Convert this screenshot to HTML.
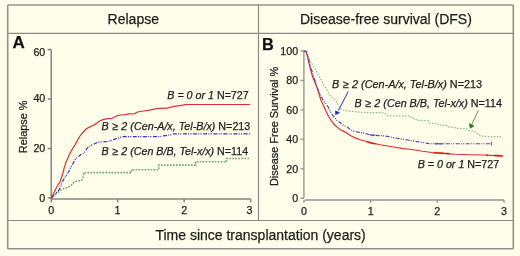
<!DOCTYPE html>
<html><head><meta charset="utf-8"><style>
html,body{margin:0;padding:0;background:#FEFEEB;width:520px;height:256px;overflow:hidden}
svg{display:block;font-family:"Liberation Sans",sans-serif;will-change:transform;filter:blur(0.35px)}
text{stroke:#1E1E1E;stroke-width:0.25px}
</style></head><body>
<svg width="520" height="256" viewBox="0 0 520 256">
<rect x="0" y="0" width="520" height="256" fill="#FEFEEB"/>
<rect x="7.7" y="5" width="505.6" height="243.8" rx="0.8" fill="none" stroke="#929288" stroke-width="1.6"/>
<line x1="8" y1="33.3" x2="513" y2="33.3" stroke="#8A8A82" stroke-width="1.2"/>
<line x1="8" y1="220.5" x2="513" y2="220.5" stroke="#8A8A82" stroke-width="1.2"/>
<line x1="258.5" y1="5" x2="258.5" y2="220.5" stroke="#8A8A82" stroke-width="1.2"/>
<text x="133.3" y="23.8" font-size="14" text-anchor="middle" fill="#1E1E1E">Relapse</text>
<text x="385.9" y="23.8" font-size="14" text-anchor="middle" fill="#1E1E1E">Disease-free survival (DFS)</text>
<text x="260.6" y="240.2" font-size="14" text-anchor="middle" fill="#1E1E1E">Time since transplantation (years)</text>
<text x="12.4" y="48.3" font-size="17" font-weight="bold" fill="#111">A</text>
<text x="262" y="49.6" font-size="16.3" font-weight="bold" fill="#111">B</text>
<g stroke="#868682" stroke-width="1.5" fill="none">
<line x1="51.2" y1="49.6" x2="51.2" y2="198.9"/>
<line x1="51.2" y1="198.9" x2="250.6" y2="198.9"/>
<line x1="47.6" y1="198.00" x2="51.25" y2="198.00"/>
<line x1="47.6" y1="148.50" x2="51.25" y2="148.50"/>
<line x1="47.6" y1="99.00" x2="51.25" y2="99.00"/>
<line x1="47.6" y1="49.50" x2="51.25" y2="49.50"/>
<line x1="51.25" y1="198.9" x2="51.25" y2="202.4"/>
<line x1="117.70" y1="198.9" x2="117.70" y2="202.4"/>
<line x1="184.15" y1="198.9" x2="184.15" y2="202.4"/>
<line x1="250.60" y1="198.9" x2="250.60" y2="202.4"/>
</g>
<text x="45.3" y="201.80" font-size="10.7" text-anchor="end" fill="#1E1E1E">0</text>
<text x="45.3" y="152.30" font-size="10.7" text-anchor="end" fill="#1E1E1E">20</text>
<text x="45.3" y="102.00" font-size="10.7" text-anchor="end" fill="#1E1E1E">40</text>
<text x="45.3" y="55.80" font-size="10.7" text-anchor="end" fill="#1E1E1E">60</text>
<text x="51.25" y="213.5" font-size="10.7" text-anchor="middle" fill="#1E1E1E">0</text>
<text x="117.40" y="213.5" font-size="10.7" text-anchor="middle" fill="#1E1E1E">1</text>
<text x="184.15" y="213.5" font-size="10.7" text-anchor="middle" fill="#1E1E1E">2</text>
<text x="249.60" y="213.5" font-size="10.7" text-anchor="middle" fill="#1E1E1E">3</text>
<text transform="translate(26.6,126.8) rotate(-90)" font-size="10.9" text-anchor="middle" fill="#1E1E1E">Relapse %</text>
<g stroke="#96968E" stroke-width="1.4" fill="none">
<line x1="303.9" y1="50.5" x2="303.9" y2="197.8"/>
<line x1="305" y1="200" x2="504.1" y2="200"/>
<line x1="300.5" y1="198.30" x2="304" y2="198.30"/>
<line x1="300.5" y1="168.84" x2="304" y2="168.84"/>
<line x1="300.5" y1="139.38" x2="304" y2="139.38"/>
<line x1="300.5" y1="109.92" x2="304" y2="109.92"/>
<line x1="300.5" y1="80.46" x2="304" y2="80.46"/>
<line x1="300.5" y1="51.00" x2="304" y2="51.00"/>
<line x1="304.00" y1="200" x2="304.00" y2="202.8"/>
<line x1="370.67" y1="200" x2="370.67" y2="202.8"/>
<line x1="437.34" y1="200" x2="437.34" y2="202.8"/>
<line x1="504.01" y1="200" x2="504.01" y2="202.8"/>
</g>
<text x="298.2" y="202.10" font-size="10.7" text-anchor="end" fill="#1E1E1E">0</text>
<text x="298.2" y="172.64" font-size="10.7" text-anchor="end" fill="#1E1E1E">20</text>
<text x="298.2" y="143.18" font-size="10.7" text-anchor="end" fill="#1E1E1E">40</text>
<text x="298.2" y="113.72" font-size="10.7" text-anchor="end" fill="#1E1E1E">60</text>
<text x="298.2" y="84.26" font-size="10.7" text-anchor="end" fill="#1E1E1E">80</text>
<text x="298.2" y="54.80" font-size="10.7" text-anchor="end" fill="#1E1E1E">100</text>
<text x="304.00" y="214.6" font-size="10.7" text-anchor="middle" fill="#1E1E1E">0</text>
<text x="370.67" y="214.6" font-size="10.7" text-anchor="middle" fill="#1E1E1E">1</text>
<text x="437.34" y="214.6" font-size="10.7" text-anchor="middle" fill="#1E1E1E">2</text>
<text x="504.01" y="214.6" font-size="10.7" text-anchor="middle" fill="#1E1E1E">3</text>
<text transform="translate(278.3,126.4) rotate(-90)" font-size="10.9" text-anchor="middle" fill="#1E1E1E">Disease Free Survival %</text>
<polyline points="51.25,198.50 52.50,196.50 53.75,195.50 56.25,193.60 58.75,191.75 61.25,189.90 63.75,188.60 67.50,187.40 70.00,186.10 72.50,184.25 74.40,181.75 76.90,181.10 80.00,180.50 82.00,179.90 83.10,176.75 84.00,172.60 131.40,172.60 131.40,169.70 158.80,169.70 158.80,165.10 195.50,165.10 195.50,161.80 226.50,161.80 226.50,158.50 250.00,158.50" fill="none" stroke="#74A474" stroke-width="1.6" stroke-dasharray="1.7 1.3"/>
<polyline points="51.25,198.50 52.50,196.75 55.00,194.25 57.50,191.75 59.40,189.25 60.60,186.75 61.90,183.00 63.10,180.50 65.00,177.40 66.90,174.25 68.75,171.75 69.60,170.00 70.90,166.90 72.75,164.20 73.40,162.50 75.75,158.75 78.60,156.40 80.90,154.50 83.25,153.60 85.10,151.70 86.50,148.90 88.40,147.00 90.75,145.60 93.60,144.20 96.50,142.80 100.25,141.90 104.00,141.90 109.00,141.25 112.75,140.00 115.50,138.90 119.50,137.75 122.60,136.70 159.70,136.70 162.20,136.00 170.80,134.80 173.20,133.90 250.80,133.90" fill="none" stroke="#3A30C0" stroke-width="1.2" stroke-dasharray="4 1.3 1 1.1 1.1 1.6"/>
<polyline points="51.25,198.50 51.50,197.40 53.10,194.25 55.00,190.50 56.90,186.75 58.75,183.60 60.00,182.00 60.90,179.10 62.30,175.30 63.25,172.00 64.20,167.80 65.10,164.60 66.50,161.30 67.90,158.00 69.40,154.30 71.25,151.00 73.10,147.70 75.00,144.90 76.90,141.60 78.30,138.80 80.80,134.75 83.60,131.50 86.90,128.60 88.50,127.60 92.25,125.75 96.00,123.90 98.50,121.70 101.60,120.10 104.75,119.20 107.90,118.60 112.25,118.25 115.40,116.70 118.00,115.40 121.75,115.00 125.50,114.60 128.60,113.80 134.90,113.60 137.40,112.00 143.60,111.00 149.90,110.10 154.25,109.20 156.10,108.60 160.00,108.30 167.40,108.20 170.50,107.10 175.50,106.10 183.00,105.20 184.90,104.70 190.00,104.50 250.30,104.50" fill="none" stroke="#DC3030" stroke-width="1.2"/>
<polyline points="304.00,51.00 306.00,52.00 308.00,56.00 311.40,63.00 314.50,68.00 318.25,74.50 321.75,81.00 323.60,84.75 324.90,86.60 326.75,89.75 328.60,93.50 331.10,96.60 334.25,99.10 336.00,101.00 337.90,104.50 339.75,108.00 342.25,109.75 348.50,111.00 354.75,111.60 361.00,112.25 368.00,112.60 383.50,112.75 386.00,114.00 387.90,115.80 409.75,115.80 411.60,117.90 414.75,118.50 417.25,120.40 426.00,120.60 428.50,121.00 429.10,123.10 437.25,123.50 438.50,125.00 447.25,125.60 448.50,126.90 454.75,127.50 456.60,128.40 466.00,128.60 467.90,130.50 474.10,131.10 476.60,133.00 479.10,134.90 481.60,136.10 488.00,136.60 502.00,136.60" fill="none" stroke="#8AB88A" stroke-width="1.2" stroke-dasharray="1.5 1.5"/>
<polyline points="304.00,51.00 306.00,51.50 307.30,55.50 308.50,61.00 309.80,66.50 311.00,71.00 312.40,76.00 314.90,82.25 317.40,88.50 319.25,94.75 321.10,100.50 323.50,105.50 326.00,111.25 328.50,116.25 331.60,121.25 334.75,125.00 338.50,128.10 340.00,129.50 343.75,131.40 347.50,133.50 351.25,136.00 355.00,137.90 360.00,139.75 365.00,141.00 368.75,142.25 372.00,143.30 375.00,143.60 380.00,144.75 387.50,146.00 395.00,147.25 402.00,148.40 407.50,149.00 415.00,150.00 422.50,151.25 432.00,152.50 442.50,153.40 455.00,154.25 462.00,154.50 482.00,155.00 502.00,155.90" fill="none" stroke="#DC3030" stroke-width="1.2"/>
<polyline points="304.00,51.00 306.40,51.30 307.60,55.50 308.90,60.50 310.10,65.50 312.00,71.10 313.60,76.50 315.50,82.25 318.00,89.75 320.50,95.40 323.00,99.75 326.00,103.75 328.50,107.50 331.00,112.50 334.10,117.50 337.25,120.60 341.00,123.30 343.75,125.40 347.50,127.25 351.25,130.20 355.00,131.60 360.00,132.40 365.00,133.50 370.00,134.90 375.00,135.40 382.50,135.75 388.75,136.60 395.00,137.90 400.00,138.75 407.50,140.00 415.00,141.25 422.50,142.50 430.00,143.75 491.40,143.75" fill="none" stroke="#4A44B8" stroke-width="1.2" stroke-dasharray="4 1.3 1 1.1 1.1 1.6"/>
<line x1="367.5" y1="141.9" x2="374.5" y2="143.6" stroke="#D81818" stroke-width="2.0" stroke-linecap="round" opacity="0.7"/>
<line x1="434" y1="152.8" x2="443.5" y2="153.3" stroke="#D81818" stroke-width="2.0" stroke-linecap="round" opacity="0.7"/>
<line x1="446.5" y1="153.5" x2="449" y2="153.7" stroke="#D81818" stroke-width="2.0" stroke-linecap="round" opacity="0.7"/>
<line x1="494.8" y1="155.5" x2="502.2" y2="155.9" stroke="#D81818" stroke-width="2.0" stroke-linecap="round" opacity="0.7"/>
<line x1="486.8" y1="155.2" x2="487.8" y2="155.2" stroke="#D81818" stroke-width="2.0" stroke-linecap="round" opacity="0.7"/>
<line x1="370" y1="134.9" x2="375" y2="135.4" stroke="#3030B0" stroke-width="1.8" opacity="0.6"/>
<line x1="434.6" y1="143.75" x2="437.8" y2="143.75" stroke="#3030B0" stroke-width="1.8" opacity="0.6"/>
<line x1="439" y1="143.75" x2="442.8" y2="143.75" stroke="#3030B0" stroke-width="1.8" opacity="0.6"/>
<line x1="491.4" y1="142" x2="491.4" y2="145.5" stroke="#4A44B8" stroke-width="1"/>
<text x="167.3" y="98.8" font-size="10.7" fill="#1E1E1E"><tspan font-style="italic">B = 0 or 1</tspan> N=727</text>
<text x="101.5" y="130" font-size="10.75" fill="#1E1E1E"><tspan font-style="italic">B <tspan dx="0.8">≥</tspan> 2 (Cen-A/x, Tel-B/x)</tspan> N=213</text>
<text x="101.5" y="155" font-size="10.7" fill="#1E1E1E"><tspan font-style="italic">B <tspan dx="0.8">≥</tspan> 2 (Cen B/B, Tel-x/x)</tspan> N=114</text>
<text x="332" y="87.6" font-size="10.85" fill="#1E1E1E"><tspan font-style="italic">B <tspan dx="0.8">≥</tspan> 2 (Cen-A/x, Tel-B/x)</tspan> N=213</text>
<text x="354.5" y="106.8" font-size="10.76" fill="#1E1E1E"><tspan font-style="italic">B <tspan dx="0.8">≥</tspan> 2 (Cen B/B, Tel-x/x)</tspan> N=114</text>
<text x="417.7" y="168" font-size="10.7" fill="#1E1E1E"><tspan font-style="italic">B = 0 or 1</tspan> N=727</text>
<line x1="348.3" y1="91.5" x2="338.4" y2="110.5" stroke="#4848B8" stroke-width="1.05"/>
<polygon points="335.4,114.7 335.5,110.8 339.7,112.8" fill="#2424B4" stroke="#2424B4" stroke-width="0.5"/>
<line x1="478.4" y1="110.3" x2="471.6" y2="125" stroke="#5A8A5A" stroke-width="0.95"/>
<polygon points="470.2,128.3 469.2,123.6 474.1,126" fill="#2A7A2A" stroke="#2A7A2A" stroke-width="0.6"/>
</svg>
</body></html>
